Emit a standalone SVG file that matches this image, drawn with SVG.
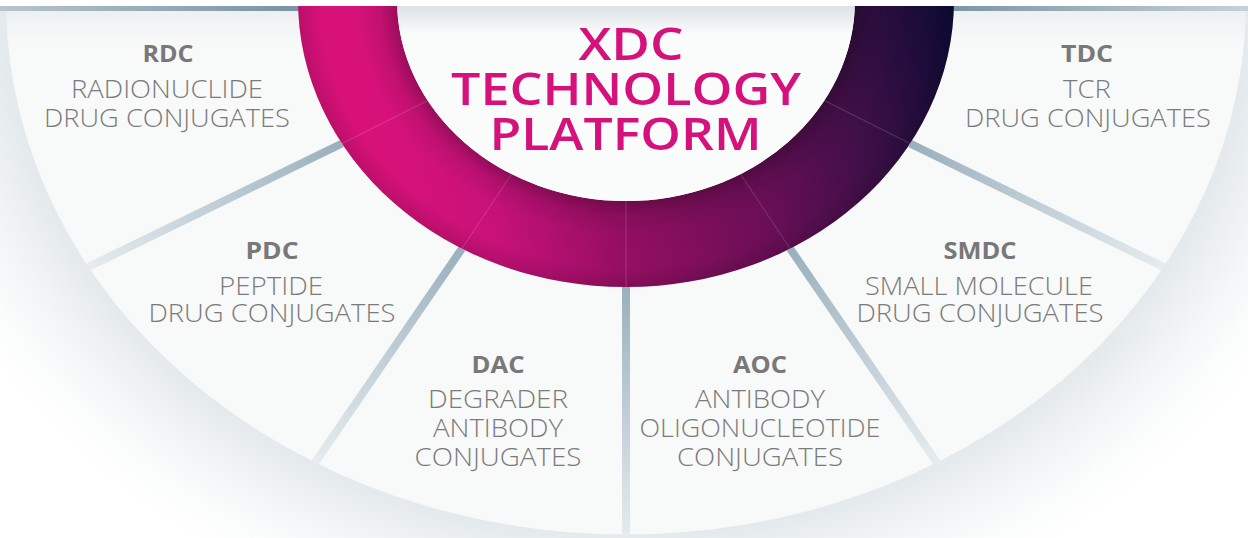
<svg xmlns="http://www.w3.org/2000/svg" width="1248" height="538" viewBox="0 0 1248 538">
  <defs>
    <style>
      .lbl { font-family: "Open Sans", "DejaVu Sans", sans-serif; font-weight: 300; font-size: 25px; fill: #7b7b7b; text-anchor: middle; }
      .hd { font-weight: 700; font-size: 24px; fill: #787878; }
      .tt { font-family: "Open Sans", "DejaVu Sans", sans-serif; font-weight: 600; font-size: 46px; fill: #d5127b; text-anchor: middle; }
      .div { stroke-width: 8; fill: none; stroke-linecap: butt; }
      .seam { stroke: #ffffff; stroke-opacity: 0.22; stroke-width: 0.8; fill: none; }
    </style>
    <radialGradient id="halo" cx="0.5" cy="0.5" r="0.5">
      <stop offset="0.80" stop-color="#dbe3e7"/>
      <stop offset="0.816" stop-color="#e3e9ec"/>
      <stop offset="0.87" stop-color="#eff2f4"/>
      <stop offset="0.95" stop-color="#fbfcfc"/>
      <stop offset="1" stop-color="#ffffff"/>
    </radialGradient>
    <linearGradient id="fanFill" gradientUnits="userSpaceOnUse" x1="0" y1="11" x2="0" y2="45">
      <stop offset="0" stop-color="#edf0f2"/>
      <stop offset="1" stop-color="#f8f9f9"/>
    </linearGradient>
    <linearGradient id="strip" gradientUnits="userSpaceOnUse" x1="0" y1="0" x2="1248" y2="0">
      <stop offset="0" stop-color="#b7c5cd"/>
      <stop offset="0.23" stop-color="#7a95a4"/>
      <stop offset="0.77" stop-color="#7f98a7"/>
      <stop offset="1" stop-color="#c6d1d7"/>
    </linearGradient>
    <linearGradient id="innerFill" gradientUnits="userSpaceOnUse" x1="0" y1="6" x2="0" y2="34">
      <stop offset="0" stop-color="#dde2e6"/>
      <stop offset="1" stop-color="#fafbfb"/>
    </linearGradient>
    <linearGradient id="ringGrad" gradientUnits="userSpaceOnUse" x1="380" y1="150" x2="960" y2="10">
      <stop offset="0" stop-color="#d81179"/>
      <stop offset="0.15" stop-color="#c9117a"/>
      <stop offset="0.35" stop-color="#960e63"/>
      <stop offset="0.6" stop-color="#6a0e57"/>
      <stop offset="0.8" stop-color="#3c0f47"/>
      <stop offset="1" stop-color="#0a0a33"/>
    </linearGradient>
    <radialGradient id="tube" gradientUnits="userSpaceOnUse" cx="626" cy="0" r="328" gradientTransform="matrix(1 0 0 0.875 0 0)">
      <stop offset="0.69" stop-color="#000" stop-opacity="0.28"/>
      <stop offset="0.75" stop-color="#000" stop-opacity="0.08"/>
      <stop offset="0.82" stop-color="#000" stop-opacity="0"/>
      <stop offset="0.93" stop-color="#000" stop-opacity="0"/>
      <stop offset="1" stop-color="#000" stop-opacity="0.13"/>
    </radialGradient>
    <linearGradient id="d150" gradientUnits="userSpaceOnUse" x1="342" y1="143.5" x2="89" y2="266.5">
      <stop offset="0" stop-color="#9ab0bd"/><stop offset="1" stop-color="#e6ecef"/>
    </linearGradient>
    <linearGradient id="d120" gradientUnits="userSpaceOnUse" x1="462" y1="248.5" x2="316" y2="461.6">
      <stop offset="0" stop-color="#9ab0bd"/><stop offset="1" stop-color="#e6ecef"/>
    </linearGradient>
    <linearGradient id="d90" gradientUnits="userSpaceOnUse" x1="626" y1="287" x2="626" y2="538">
      <stop offset="0" stop-color="#9ab0bd"/><stop offset="1" stop-color="#e6ecef"/>
    </linearGradient>
    <linearGradient id="d60" gradientUnits="userSpaceOnUse" x1="790" y1="248.5" x2="936" y2="461.6">
      <stop offset="0" stop-color="#9ab0bd"/><stop offset="1" stop-color="#e6ecef"/>
    </linearGradient>
    <linearGradient id="d30" gradientUnits="userSpaceOnUse" x1="910" y1="143.5" x2="1163" y2="266.5">
      <stop offset="0" stop-color="#9ab0bd"/><stop offset="1" stop-color="#e6ecef"/>
    </linearGradient>
    <clipPath id="fanClip">
      <path d="M 6.1 11 A 620 533 0 0 0 1245.9 11 Z"/>
    </clipPath>
  </defs>

  <rect x="0" y="0" width="1248" height="538" fill="#ffffff"/>
  <ellipse cx="626" cy="0" rx="760" ry="654" fill="url(#halo)"/>
  <rect x="0" y="6" width="1248" height="5" fill="url(#strip)"/>
  <path id="fan" d="M 6.1 11 A 620 533 0 0 0 1245.9 11 Z" fill="url(#fanFill)"/>

  <g id="connectors" clip-path="url(#fanClip)">
    <line class="div" x1="342" y1="143.5" x2="80" y2="271" stroke="url(#d150)"/>
    <line class="div" x1="462" y1="248.5" x2="310" y2="470" stroke="url(#d120)"/>
    <line class="div" x1="626" y1="287" x2="626" y2="540" stroke="url(#d90)"/>
    <line class="div" x1="790" y1="248.5" x2="942" y2="470" stroke="url(#d60)"/>
    <line class="div" x1="910" y1="143.5" x2="1172" y2="271" stroke="url(#d30)"/>
  </g>

  <g id="hub">
    <path d="M 298 0 a 328 287 0 1 0 656 0 a 328 287 0 1 0 -656 0 Z M 397 0 a 229 201 0 1 0 458 0 a 229 201 0 1 0 -458 0 Z" fill-rule="evenodd" fill="url(#ringGrad)"/>
    <path d="M 298 0 a 328 287 0 1 0 656 0 a 328 287 0 1 0 -656 0 Z M 397 0 a 229 201 0 1 0 458 0 a 229 201 0 1 0 -458 0 Z" fill-rule="evenodd" fill="url(#tube)"/>
    <line class="seam" x1="427.7" y1="100.5" x2="342" y2="143.5"/>
    <line class="seam" x1="511.5" y1="174.1" x2="462" y2="248.5"/>
    <line class="seam" x1="626" y1="201" x2="626" y2="287"/>
    <line class="seam" x1="740.5" y1="174.1" x2="790" y2="248.5"/>
    <line class="seam" x1="824.3" y1="100.5" x2="910" y2="143.5"/>
    <ellipse cx="626" cy="0" rx="229" ry="201" fill="url(#innerFill)"/>
    <rect x="0" y="0" width="1248" height="6" fill="#ffffff"/>
    <text class="tt"><tspan x="631" y="60" textLength="105" lengthAdjust="spacingAndGlyphs">XDC</tspan><tspan x="626" y="105" textLength="350" lengthAdjust="spacingAndGlyphs">TECHNOLOGY</tspan><tspan x="625.5" y="150" textLength="272" lengthAdjust="spacingAndGlyphs">PLATFORM</tspan></text>
  </g>

  <g id="rdc">
    <text class="lbl"><tspan class="hd" x="168" y="62" textLength="51" lengthAdjust="spacingAndGlyphs">RDC</tspan><tspan x="167" y="98" textLength="192" lengthAdjust="spacingAndGlyphs">RADIONUCLIDE</tspan><tspan x="167" y="127" textLength="246" lengthAdjust="spacingAndGlyphs">DRUG CONJUGATES</tspan></text>
  </g>
  <g id="pdc">
    <text class="lbl"><tspan class="hd" x="272" y="259" textLength="53" lengthAdjust="spacingAndGlyphs">PDC</tspan><tspan x="271" y="295" textLength="104" lengthAdjust="spacingAndGlyphs">PEPTIDE</tspan><tspan x="272" y="322" textLength="247" lengthAdjust="spacingAndGlyphs">DRUG CONJUGATES</tspan></text>
  </g>
  <g id="dac">
    <text class="lbl"><tspan class="hd" x="498" y="373" textLength="53" lengthAdjust="spacingAndGlyphs">DAC</tspan><tspan x="498" y="408" textLength="140" lengthAdjust="spacingAndGlyphs">DEGRADER</tspan><tspan x="498" y="437" textLength="130" lengthAdjust="spacingAndGlyphs">ANTIBODY</tspan><tspan x="498" y="466" textLength="167" lengthAdjust="spacingAndGlyphs">CONJUGATES</tspan></text>
  </g>
  <g id="aoc">
    <text class="lbl"><tspan class="hd" x="760" y="373" textLength="54" lengthAdjust="spacingAndGlyphs">AOC</tspan><tspan x="760" y="408" textLength="130" lengthAdjust="spacingAndGlyphs">ANTIBODY</tspan><tspan x="760" y="437" textLength="241" lengthAdjust="spacingAndGlyphs">OLIGONUCLEOTIDE</tspan><tspan x="760" y="466" textLength="166" lengthAdjust="spacingAndGlyphs">CONJUGATES</tspan></text>
  </g>
  <g id="smdc">
    <text class="lbl"><tspan class="hd" x="980" y="259" textLength="73" lengthAdjust="spacingAndGlyphs">SMDC</tspan><tspan x="979" y="295" textLength="228" lengthAdjust="spacingAndGlyphs">SMALL MOLECULE</tspan><tspan x="980" y="322" textLength="247" lengthAdjust="spacingAndGlyphs">DRUG CONJUGATES</tspan></text>
  </g>
  <g id="tdc">
    <text class="lbl"><tspan class="hd" x="1087" y="62" textLength="52" lengthAdjust="spacingAndGlyphs">TDC</tspan><tspan x="1087" y="98" textLength="48" lengthAdjust="spacingAndGlyphs">TCR</tspan><tspan x="1088" y="127" textLength="246" lengthAdjust="spacingAndGlyphs">DRUG CONJUGATES</tspan></text>
  </g>
</svg>
